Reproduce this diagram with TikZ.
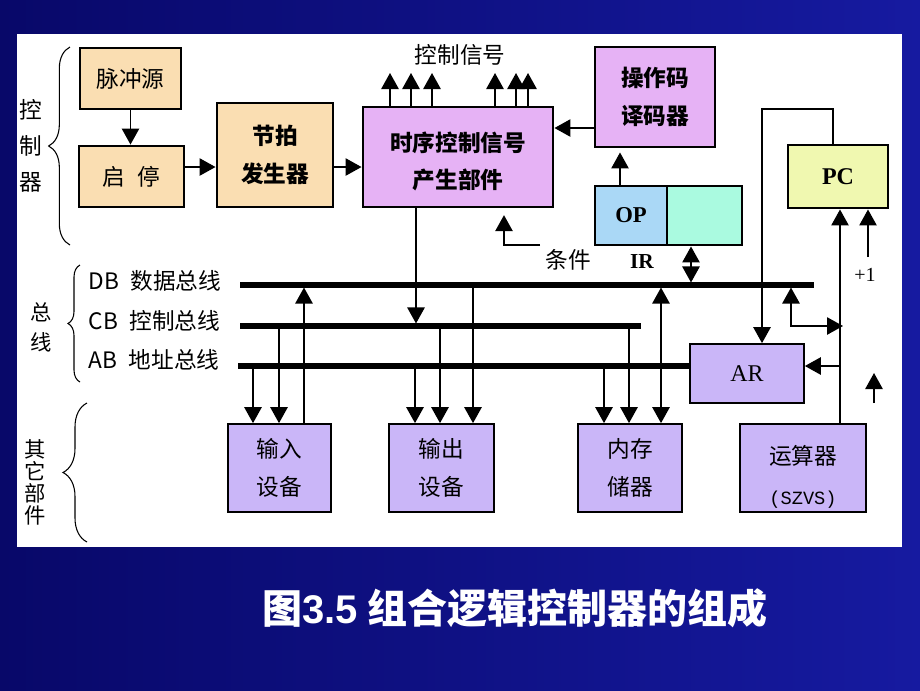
\documentclass[tikz,border=0pt]{standalone}
\usepackage{fontspec}
\usetikzlibrary{arrows.meta,decorations.pathreplacing,calc}
\newfontfamily\cjk{Noto Sans CJK SC}
\newfontfamily\tms{Liberation Serif}
\newfontfamily\arial{Liberation Sans}
\newfontfamily\mono{Liberation Mono}
\definecolor{bgdark}{RGB}{8,8,105}
\definecolor{bglight}{RGB}{22,26,160}
\definecolor{tanc}{RGB}{250,222,178}
\definecolor{lav}{RGB}{230,178,245}
\definecolor{purp}{RGB}{202,182,248}
\definecolor{opblue}{RGB}{170,216,246}
\definecolor{irgreen}{RGB}{170,250,224}
\definecolor{pcyel}{RGB}{240,248,176}
\begin{document}
\begin{tikzpicture}[x=0.75pt,y=-0.75pt,
  sz/.style 2 args={minimum width=#1*0.75pt, minimum height=#2*0.75pt},
  thinbox/.style={draw=black, line width=1.3pt, inner sep=0pt, align=center},
  thickbox/.style={draw=black, line width=2.2pt, inner sep=0pt, align=center},
  cjkfont/.style={font=\cjk\fontsize{17}{28}\selectfont},
  cjkbold/.style={font=\cjk\bfseries\fontsize{17}{28}\selectfont},
  wire/.style={line width=1.2pt},
  arr/.style={wire, -{Triangle[width=13pt,length=12pt]}},
  darr/.style={wire, {Triangle[width=13pt,length=12pt]}-{Triangle[width=13pt,length=12pt]}},
  bus/.style={line width=3.8pt},
  brc/.style={decorate, line width=0.8pt, decoration={brace, amplitude=#1}},
]
\shade[left color=bgdark, right color=bglight] (0,0) rectangle (920,690);
\useasboundingbox (0,0) rectangle (920,690);
\fill[white] (17,34) rectangle (902,547);

% controller boxes
\node[thinbox, fill=tanc, cjkfont, sz={101}{61}] (pulse) at (130.5,78.5) {脉冲源};
\node[thickbox, fill=tanc, cjkfont, sz={105}{61}] (qt) at (131.5,176.5) {启\hspace{0.55em}停};
\node[thickbox, fill=tanc, cjkbold, sz={116}{104}] (jp) at (275,155) {节拍\\发生器};
\node[thickbox, fill=lav, cjkbold, sz={190}{100}] (ts) at (458,157) {\raisebox{-4pt}[\height][\depth]{\begin{tabular}{@{}c@{}}时序控制信号\\产生部件\end{tabular}}};
\node[thickbox, fill=lav, cjkbold, sz={120}{100}] (dec) at (655,97) {操作码\\译码器};
\node[thinbox, fill=opblue, font=\tms\bfseries\fontsize{17}{20}\selectfont, sz={72}{59}] (op) at (631,215.5) {OP};
\node[thinbox, fill=irgreen, sz={75}{59}] (irr) at (704.5,215.5) {};
\node[thickbox, sz={147}{59}] (ir) at (668.5,215.5) {};
\node[thickbox, fill=pcyel, font=\tms\bfseries\fontsize{18}{20}\selectfont, sz={100}{63}] (PC) at (838,176.5) {PC};
\node[thinbox, fill=purp, font=\tms\fontsize{18}{20}\selectfont, sz={114}{59}] (AR) at (747,373.5) {AR};

% other parts
\node[thinbox, fill=purp, cjkfont, sz={103}{88}] (in) at (279.5,468) {输入\\设备};
\node[thinbox, fill=purp, cjkfont, sz={105}{88}] (out) at (441.5,468) {输出\\设备};
\node[thinbox, fill=purp, cjkfont, sz={104}{88}] (mem) at (630,468) {内存\\储器};
\node[thinbox, fill=purp, cjkfont, sz={126}{88}] (alu) at (803,468) {\raisebox{-7pt}[\height][\depth]{\begin{tabular}{@{}c@{}}运算器\\[2pt]{\mono\fontsize{14}{20}\selectfont(SZVS)}\end{tabular}}};

% labels
\node[cjkfont] (sig) at (460,55) {控制信号};
\node[cjkfont] (cond) at (568,260) {条件};
\node[font=\tms\bfseries\fontsize{16}{18}\selectfont] (irlab) at (642,262) {IR};
\node[font=\tms\fontsize{15}{18}\selectfont] (plus1) at (865,275) {+1};
\node[cjkfont, anchor=west] (dbl) at (84,281) {DB\hspace{0.5em}数据总线};
\node[cjkfont, anchor=west] (cbl) at (84,321) {CB\hspace{0.5em}控制总线};
\node[cjkfont, anchor=west] (abl) at (84,360) {AB\hspace{0.5em}地址总线};

% left braces and labels
\draw[brc=16pt] (70,245) -- (70,47);
\draw[brc=9pt] (80,382) -- (80,265);
\draw[brc=18pt] (87,542) -- (87,403);
\node[font=\cjk\fontsize{17}{27}\selectfont, align=center] (ctl) at (31,146) {控\\制\\器};
\node[font=\cjk\fontsize{16}{22.5}\selectfont, align=center] (zx) at (41,327) {总\\线};
\node[font=\cjk\fontsize{16}{16.5}\selectfont, align=center] (qtb) at (35,482) {其\\它\\部\\件};

% buses
\coordinate (dbL) at (240,285); \coordinate (dbR) at (814,285);
\coordinate (cbL) at (240,326); \coordinate (cbR) at (641,326);
\coordinate (abL) at (238,366);
\draw[bus] (dbL) -- (dbR);
\draw[bus] (cbL) -- (cbR);
\draw[bus] (abL) -- (AR.west |- abL);

% controller connectors
\draw[arr] (pulse.south) -- (pulse.south |- qt.north);
\draw[arr] (qt.east |- 0,167) -- (jp.west |- 0,167);
\draw[arr] (jp.east |- 0,167) -- (ts.west |- 0,167);
\coordinate (sigrow) at (0,73);
\foreach \x in {390,411,432,495,516,528}
  \draw[arr] (\x,0 |- ts.north) -- (\x,0 |- sigrow);
\draw[arr] (dec.west |- 0,128) -- (ts.east |- 0,128);
\draw[arr, shorten >=3pt] (620,0 |- op.north) -- (620,0 |- dec.south);
\coordinate (condR) at (540,245);
\draw[arr, shorten >=5pt] (condR) -- (504,0 |- condR) -- (504,0 |- ts.south);
\draw[darr, shorten <=1.9pt] (691,0 |- dbL) -- (691,0 |- ir.south);
\draw[arr, shorten >=1.9pt] (416,0 |- ts.south) -- (416,0 |- cbL);

% PC / AR connections
\coordinate (pcup) at (833,109); \coordinate (arup) at (762,109);
\draw[arr] (PC.north -| pcup) -- (pcup) -- (arup) -- (arup |- AR.north);
\draw[arr] (840,0 |- alu.north) -- (840,0 |- PC.south);
\coordinate (arin) at (840,366);
\draw[arr] (arin) -- (AR.east |- arin);
\coordinate (p1top) at (868,257);
\draw[arr] (p1top) -- (p1top |- PC.south);
\coordinate (dbk) at (791,326);
\draw[darr, shorten <=1.9pt] (791,0 |- dbL) -- (dbk) -- (843,0 |- dbk);
\coordinate (lonea) at (874,403); \coordinate (loneb) at (874,373);
\draw[arr] (lonea) -- (loneb);

% device connections
\draw[arr] (253,0 |- abL) -- (253,0 |- in.north);
\draw[arr] (279,0 |- cbL) -- (279,0 |- in.north);
\draw[arr, shorten >=1.9pt] (304,0 |- in.north) -- (304,0 |- dbL);
\draw[arr] (415,0 |- abL) -- (415,0 |- out.north);
\draw[arr] (440,0 |- cbL) -- (440,0 |- out.north);
\draw[arr] (473,0 |- dbL) -- (473,0 |- out.north);
\draw[arr] (604,0 |- abL) -- (604,0 |- mem.north);
\draw[arr] (629,0 |- cbL) -- (629,0 |- mem.north);
\draw[darr, shorten <=1.9pt] (661,0 |- dbL) -- (661,0 |- mem.north);

% title
\node[font=\cjk\bfseries\fontsize{30}{36}\selectfont, text=white] (title) at (515,608) {图{\arial\bfseries 3.5} 组合逻辑控制器的组成};
\end{tikzpicture}
\end{document}
